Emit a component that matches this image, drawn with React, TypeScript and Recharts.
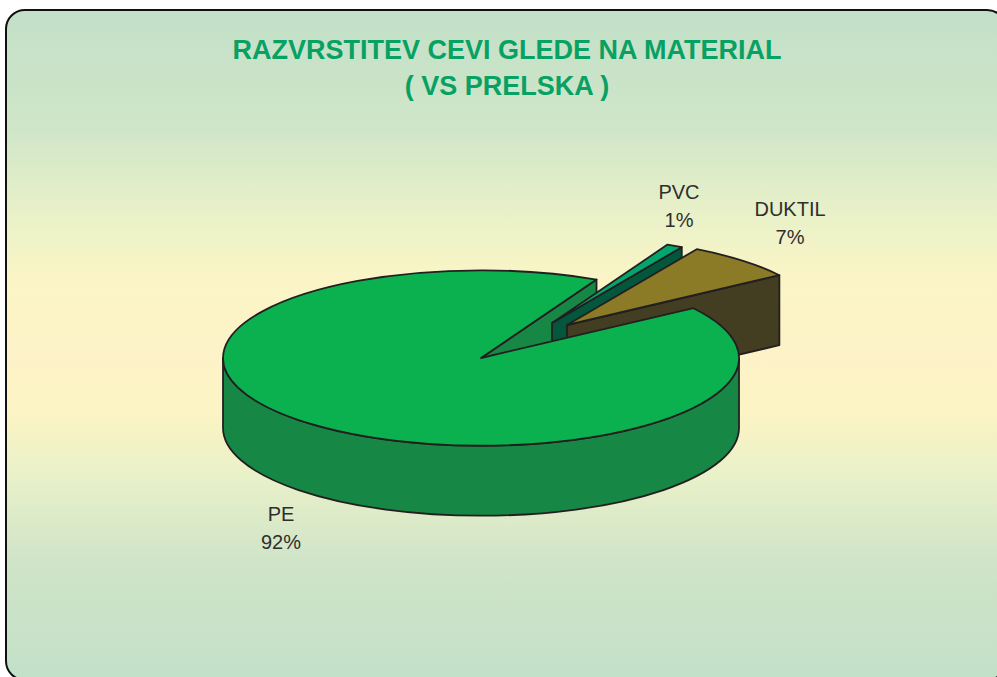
import { Pie, PieChart } from "recharts";

// RAZVRSTITEV CEVI GLEDE NA MATERIAL (VS PRELSKA)
const materials = ["PVC", "DUKTIL", "PE"];
const shares = [1, 7, 92];
const titleLines = ["RAZVRSTITEV CEVI GLEDE NA MATERIAL", "( VS PRELSKA )"];

const data = materials.map((name, i) => ({ name, value: shares[i] }));

const TILT = 0.34; // ellipse ry / rx
const DEPTH = 70; // pie thickness in px
const START = 63.4;
const OUTLINE = "#231f20";
const FONT = "'Liberation Sans', Arial, sans-serif";

const topFill: Record<string, string> = { PE: "#0bb14e", PVC: "#04a56d", DUKTIL: "#8b7b26" };
const wallFill: Record<string, string> = { PE: "#168744", PVC: "#02573c", DUKTIL: "#433d22" };
// pulled-out slices
const explode: Record<string, [number, number]> = { PE: [0, 0], PVC: [71, -35], DUKTIL: [86, -33] };
const labelAt: Record<string, [number, number]> = { PE: [281, 521], PVC: [679, 199], DUKTIL: [790, 216] };

const point = (cx: number, cy: number, r: number, deg: number) => {
  const a = (deg * Math.PI) / 180;
  return [cx + r * Math.cos(a), cy - r * TILT * Math.sin(a)];
};

function cutWall(x: number, y: number, r: number, deg: number) {
  const [ex, ey] = point(x, y, r, deg);
  return `M${x},${y} L${ex},${ey} L${ex},${ey + DEPTH} L${x},${y + DEPTH} Z`;
}

// only the cut face of the big slice, it sits behind the pulled-out slices
function BackWall(props: any) {
  if (props.name !== "PE") return null;
  const { cx, cy, outerRadius, endAngle } = props;
  return <path d={cutWall(cx, cy, outerRadius, endAngle)} fill={wallFill.PE} stroke={OUTLINE} strokeWidth={1.8} strokeLinejoin="round" />;
}

function Slice3D(props: any) {
  const { cx, cy, outerRadius: r, startAngle, endAngle, name } = props;
  const [dx, dy] = explode[name];
  const x = cx + dx;
  const y = cy + dy;
  const ry = r * TILT;
  const [sx, sy] = point(x, y, r, startAngle);
  const [ex, ey] = point(x, y, r, endAngle);
  const large = Math.abs(startAngle - endAngle) > 180 ? 1 : 0;
  const top = `M${x},${y} L${sx},${sy} A${r},${ry} 0 ${large} 1 ${ex},${ey} Z`;
  const common = { stroke: OUTLINE, strokeWidth: 1.8, strokeLinejoin: "round" as const };
  if (name === "PE") {
    // outer rim, front half only
    const rim = `M${x - r},${y} A${r},${ry} 0 0 0 ${x + r},${y} L${x + r},${y + DEPTH} A${r},${ry} 0 0 1 ${x - r},${y + DEPTH} Z`;
    return (
      <g>
        <path d={rim} fill={wallFill[name]} {...common} />
        <path d={top} fill={topFill[name]} {...common} />
      </g>
    );
  }
  return (
    <g>
      <path d={cutWall(x, y, r, endAngle)} fill={wallFill[name]} {...common} />
      <path d={top} fill={topFill[name]} {...common} />
    </g>
  );
}

function SliceLabel(props: any) {
  const [x, y] = labelAt[props.name];
  return (
    <text x={x} y={y} textAnchor="middle" fontSize={20} fill="#2f2e2d" fontFamily={FONT} style={{ fontKerning: "none" }}>
      <tspan x={x}>{props.name}</tspan>
      <tspan x={x} dy={28}>{`${Math.round(props.percent * 100)}%`}</tspan>
    </text>
  );
}

const background =
  "linear-gradient(180deg, #c2e0c8 0px, #d0e6c8 121px, #e9f1c8 207px, #fbf5c6 271px, #fdf2c8 345px, #fcf4c4 401px, #e9f1c8 466px, #d0e4c8 552px, #c2e0c8 672px)";

export default function App() {
  return (
    <div style={{ position: "fixed", left: 0, top: 0, width: 997, height: 677, overflow: "hidden", background: "#fff" }}>
      <div
        style={{
          position: "absolute",
          left: 5,
          top: 9,
          width: 1002,
          height: 672,
          boxSizing: "border-box",
          border: "2px solid #111",
          borderRadius: 20,
          background,
          backgroundOrigin: "border-box",
        }}
      />
      <div style={{ position: "absolute", left: 0, top: 0 }}>
        <PieChart width={997} height={677} margin={{ top: 0, right: 0, bottom: 0, left: 0 }}>
          <text x={507} y={59} textAnchor="middle" fontSize={27} fontWeight="bold" fill="#07a163" fontFamily={FONT}>
            {titleLines[0]}
          </text>
          <text x={507} y={95} textAnchor="middle" fontSize={27} fontWeight="bold" fill="#07a163" fontFamily={FONT}>
            {titleLines[1]}
          </text>
          <Pie
            data={data}
            dataKey="value"
            nameKey="name"
            cx={481}
            cy={358}
            outerRadius={258}
            startAngle={START}
            endAngle={START - 360}
            shape={BackWall}
            stroke="none"
            isAnimationActive={false}
          />
          <Pie
            data={data}
            dataKey="value"
            nameKey="name"
            cx={481}
            cy={358}
            outerRadius={258}
            startAngle={START}
            endAngle={START - 360}
            shape={Slice3D}
            label={SliceLabel}
            labelLine={false}
            isAnimationActive={false}
          />
        </PieChart>
      </div>
    </div>
  );
}
